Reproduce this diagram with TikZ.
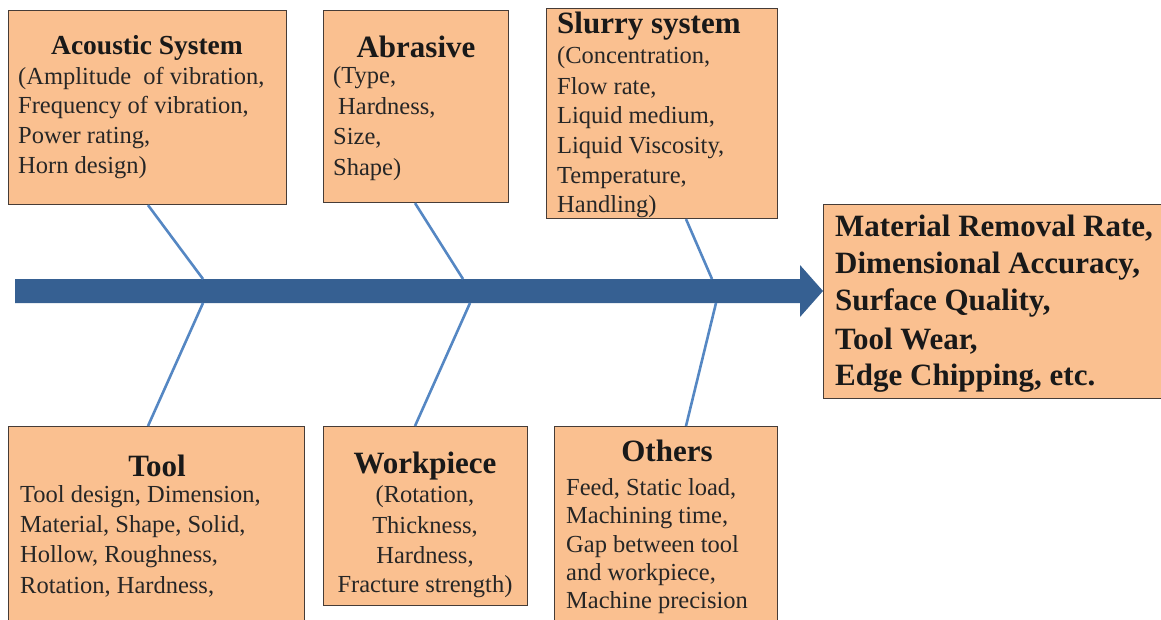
\documentclass[tikz,border=0pt]{standalone}
\usepackage{fontspec}
\setmainfont{Liberation Serif}
\newfontfamily\tnr{Liberation Serif}
\definecolor{boxfill}{RGB}{250,192,144}
\definecolor{boxline}{RGB}{70,60,55}
\definecolor{spine}{RGB}{54,96,146}
\definecolor{bone}{RGB}{85,135,195}
\tikzset{
  box/.style={draw=boxline, line width=1.1pt, fill=boxfill, anchor=north west, inner sep=0pt},
  ttl/.style={font=\tnr\fontsize{31}{34}\selectfont\bfseries, inner sep=0pt, text=black!90},
  txt/.style={font=\tnr\fontsize{24.5}{30}\selectfont, inner sep=0pt, anchor=west, text=black!85},
  res/.style={font=\tnr\fontsize{31}{37}\selectfont\bfseries, inner sep=0pt, anchor=west, text=black!90},
  bonel/.style={draw=bone, line width=2.6pt}
}
\begin{document}
\begin{tikzpicture}[x=1pt,y=-1pt]
\useasboundingbox (0,0) rectangle (1161,619);
% boxes
\node[box, minimum width=278, minimum height=194] (ac) at (8,10) {};
\node[box, minimum width=185, minimum height=192] (ab) at (323,10) {};
\node[box, minimum width=231, minimum height=210] (sl) at (546,8) {};
\node[box, minimum width=345, minimum height=194] (rs) at (823,204) {};
\node[box, minimum width=296, minimum height=200] (tl) at (8,426) {};
\node[box, minimum width=204, minimum height=179] (wp) at (323,426) {};
\node[box, minimum width=223, minimum height=200] (ot) at (554,426) {};
% spine arrow
\fill[spine] (15,279) -- (800,279) -- (800,265) -- (823,291) -- (800,317) -- (800,303) -- (15,303) -- cycle;
\coordinate (j1t) at (203,279); \coordinate (j1b) at (203,303);
\coordinate (j2t) at (463,279); \coordinate (j2b) at (470,303);
\coordinate (j3t) at (712,279); \coordinate (j3b) at (716,303);
% bones
\draw[bonel] (148,0 |- ac.south) -- (j1t);
\draw[bonel] (415,0 |- ab.south) -- (j2t);
\draw[bonel] (686,0 |- sl.south) -- (j3t);
\draw[bonel] (148,0 |- tl.north) -- (j1b);
\draw[bonel] (415,0 |- wp.north) -- (j2b);
\draw[bonel] (686,0 |- ot.north) -- (j3b);
% acoustic
\node[ttl, font=\tnr\fontsize{27.5}{30}\selectfont\bfseries] (acT) at (147,48) {Acoustic System};
\node[txt] (ac1) at (18,78) {(Amplitude\ \ of vibration,};
\node[txt] (ac2) at (18,108) {Frequency of vibration,};
\node[txt] (ac3) at (18,138) {Power rating,};
\node[txt] (ac4) at (18,168) {Horn design)};
% abrasive
\node[ttl] (abT) at (416,47) {Abrasive};
\node[txt] (ab1) at (333,78) {(Type,};
\node[txt] (ab2) at (338,108) {Hardness,};
\node[txt] (ab3) at (333,138) {Size,};
\node[txt] (ab4) at (333,170) {Shape)};
% slurry
\node[ttl, anchor=west] (slT) at (557,26) {Slurry system};
\node[txt] (sl1) at (557,58) {(Concentration,};
\node[txt] (sl2) at (557,88) {Flow rate,};
\node[txt] (sl3) at (557,118) {Liquid medium,};
\node[txt] (sl4) at (557,148) {Liquid Viscosity,};
\node[txt] (sl5) at (557,178) {Temperature,};
\node[txt] (sl6) at (557,207) {Handling)};
% result
\node[res] (rs1) at (835,228) {Material Removal Rate,};
\node[res] (rs2) at (835,266) {Dimensional Accuracy,};
\node[res] (rs3) at (835,303) {Surface Quality,};
\node[res] (rs4) at (835,341) {Tool Wear,};
\node[res] (rs5) at (835,378) {Edge Chipping, etc.};
% tool
\node[ttl] (tlT) at (157,466) {Tool};
\node[txt] (tl1) at (20,497) {Tool design,\ Dimension,};
\node[txt] (tl2) at (20,527) {Material,\ Shape,\ Solid,};
\node[txt] (tl3) at (20,557) {Hollow, Roughness,};
\node[txt] (tl4) at (20,587) {Rotation, Hardness,};
% workpiece
\node[ttl] (wpT) at (425,466) {Workpiece};
\node[txt, anchor=center] (wp1) at (425,497) {(Rotation,};
\node[txt, anchor=center] (wp2) at (425,527) {Thickness,};
\node[txt, anchor=center] (wp3) at (425,557) {Hardness,};
\node[txt, anchor=center] (wp4) at (425,587) {Fracture strength)};
% others
\node[ttl] (otT) at (667,451) {Others};
\node[txt] (ot1) at (566,489) {Feed, Static load,};
\node[txt] (ot2) at (566,518) {Machining time,};
\node[txt] (ot3) at (566,547) {Gap between tool};
\node[txt] (ot4) at (566,575) {and workpiece,};
\node[txt] (ot5) at (566,603) {Machine precision};
\end{tikzpicture}
\end{document}
